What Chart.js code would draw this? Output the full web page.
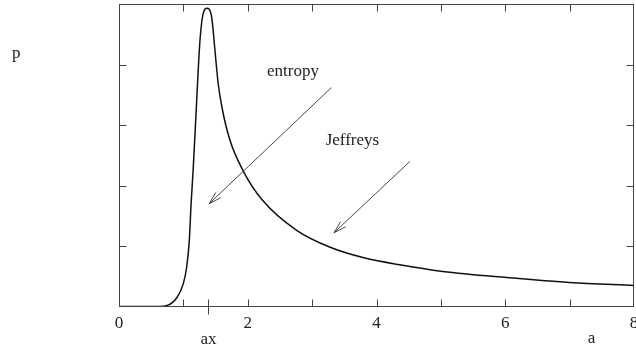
<!DOCTYPE html>
<html>
<head>
<meta charset="utf-8">
<script src="https://cdn.jsdelivr.net/npm/chart.js@4.4.0/dist/chart.umd.min.js"></script>
<style>
  html, body { margin: 0; padding: 0; background: #fff; }
  #wrap { width: 636px; height: 349px; }
</style>
</head>
<body>
<div id="wrap"><canvas id="chart"></canvas></div>
<script>
// density curve p(a)
const aValues = [0, 0.4, 0.6, 0.75, 0.9, 0.998, 1.051, 1.092, 1.12, 1.154, 1.207, 1.258, 1.309, 1.366, 1.44, 1.49, 1.54, 1.60, 1.72, 1.93, 2.22, 2.76, 3.28, 3.79, 4.36, 5.03, 6.02, 7.00, 8.0];
const pValues = [0, 0, 0.002, 0.02, 0.15, 0.376, 0.65, 1.09, 1.70, 2.30, 3.41, 4.40, 4.85, 4.93, 4.78, 4.24, 3.69, 3.29, 2.76, 2.24, 1.77, 1.26, 0.98, 0.81, 0.69, 0.58, 0.48, 0.40, 0.35];

// axes
const xTickValues = [0, 1, 2, 3, 4, 5, 6, 7, 8];
const xTickLabels = ['0', '', '2', '', '4', '', '6', '', '8'];
const yTickValues = [0, 1, 2, 3, 4, 5];
const axMarker = 1.38;
const aLabelPos = 7.34;

// text labels and arrows, in data units
const noteTexts = ['entropy', 'Jeffreys'];
const noteX = [2.30, 3.21];
const noteY = [3.81, 2.67];
const arrowFrom = [[3.30, 3.62], [4.52, 2.40]];
const arrowTo = [[1.40, 1.70], [3.34, 1.22]];

const FONT = '17px "Liberation Serif", "DejaVu Serif", serif';

function arrow(ctx, x0, y0, x1, y1) {
    const ang = Math.atan2(y1 - y0, x1 - x0);
    const len = 13, spread = 0.28;
    ctx.beginPath();
    ctx.moveTo(x0, y0);
    ctx.lineTo(x1, y1);
    ctx.moveTo(x1 - len * Math.cos(ang - spread), y1 - len * Math.sin(ang - spread));
    ctx.lineTo(x1, y1);
    ctx.lineTo(x1 - len * Math.cos(ang + spread), y1 - len * Math.sin(ang + spread));
    ctx.stroke();
}

// frame, inward ticks, the ax marker and the notes
const framePlugin = {
    id: 'frame',
    afterDatasetsDraw(chart) {
        const ctx = chart.ctx;
        const ca = chart.chartArea;
        const xs = chart.scales.x, ys = chart.scales.y;
        const L = Math.round(ca.left) + 0.5, R = Math.round(ca.right) - 0.5;
        const T = Math.round(ca.top) + 0.5, B = Math.round(ca.bottom) - 0.5;
        ctx.save();
        ctx.strokeStyle = '#444';
        ctx.lineWidth = 1;
        ctx.strokeRect(L, T, R - L, B - T);

        ctx.beginPath();
        xTickValues.slice(1, -1).forEach(v => {
            const px = Math.round(xs.getPixelForValue(v)) + 0.5;
            ctx.moveTo(px, B); ctx.lineTo(px, B - 7);
            ctx.moveTo(px, T); ctx.lineTo(px, T + 7);
        });
        yTickValues.slice(1, -1).forEach(v => {
            const py = Math.round(ys.getPixelForValue(v)) + 0.5;
            ctx.moveTo(L, py); ctx.lineTo(L + 7, py);
            ctx.moveTo(R, py); ctx.lineTo(R - 7, py);
        });
        // marker at ax crosses the axis
        const mx = Math.round(xs.getPixelForValue(axMarker)) + 0.5;
        ctx.moveTo(mx, B - 7); ctx.lineTo(mx, B + 8);
        ctx.stroke();

        ctx.fillStyle = '#222';
        ctx.font = FONT;
        ctx.textBaseline = 'alphabetic';
        ctx.textAlign = 'center';
        ctx.fillText('ax', mx, ca.bottom + 37);
        ctx.fillText('a', xs.getPixelForValue(aLabelPos), ca.bottom + 36);
        ctx.textAlign = 'left';
        ctx.fillText('p', ca.left - 107, ca.top + 54);
        noteTexts.forEach((t, i) => {
            ctx.fillText(t, xs.getPixelForValue(noteX[i]), ys.getPixelForValue(noteY[i]));
        });

        ctx.strokeStyle = '#333';
        ctx.lineWidth = 0.9;
        arrowFrom.forEach((f, i) => {
            const t = arrowTo[i];
            arrow(ctx, xs.getPixelForValue(f[0]), ys.getPixelForValue(f[1]),
                xs.getPixelForValue(t[0]), ys.getPixelForValue(t[1]));
        });
        ctx.restore();
    }
};

new Chart(document.getElementById('chart'), {
    type: 'line',
    data: {
        datasets: [{
            data: aValues.map((a, i) => ({ x: a, y: pValues[i] })),
            borderColor: '#111',
            borderWidth: 1.5,
            pointRadius: 0,
            fill: false,
            cubicInterpolationMode: 'monotone'
        }]
    },
    options: {
        responsive: true,
        maintainAspectRatio: false,
        animation: false,
        layout: { padding: { left: 119, right: 2, top: 4, bottom: 8 } },
        plugins: {
            legend: { display: false },
            tooltip: { enabled: false }
        },
        scales: {
            x: {
                type: 'linear',
                min: 0,
                max: 8,
                grid: { display: false, drawTicks: false },
                border: { display: false },
                afterBuildTicks: s => { s.ticks = xTickValues.map(v => ({ value: v })); },
                afterFit: s => { s.paddingLeft = 0; s.paddingRight = 0; },
                ticks: {
                    autoSkip: false,
                    maxRotation: 0,
                    padding: 7,
                    color: '#222',
                    font: { family: '"Liberation Serif", "DejaVu Serif", serif', size: 17 },
                    callback: (v, i) => xTickLabels[i]
                }
            },
            y: {
                display: false,
                min: 0,
                max: 5
            }
        }
    },
    plugins: [framePlugin]
});
</script>
</body>
</html>
